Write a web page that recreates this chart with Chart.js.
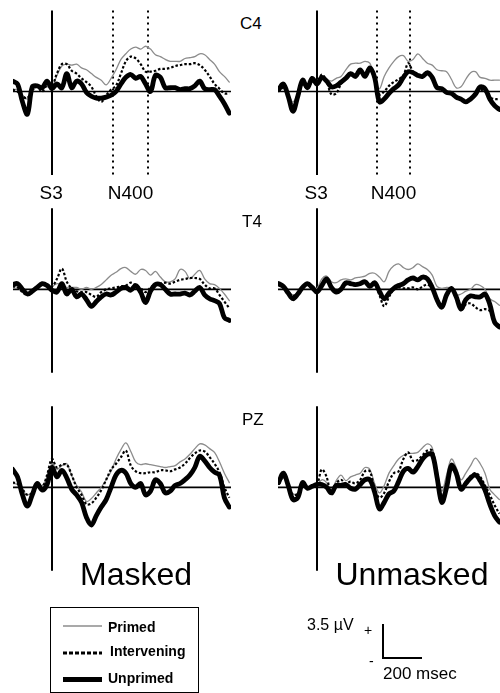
<!DOCTYPE html>
<html>
<head>
<meta charset="utf-8">
<script src="https://cdn.jsdelivr.net/npm/chart.js@4.4.0/dist/chart.umd.min.js"></script>
<style>
  body { margin: 0; background: #fff; }
  #page { position: relative; width: 500px; height: 693px; overflow: hidden;
          font-family: "Liberation Sans", Arial, sans-serif; color: #000; }
  #page canvas { position: absolute; }
  .lbl { position: absolute; line-height: 1; white-space: nowrap; }
</style>
</head>
<body>
<div id="page"></div>
<script>
// time points (ms after S3)
var timesLeft = [-200,-175,-150,-125,-100,-75,-50,-25,0,25,50,75,100,125,150,175,200,225,250,275,300,325,350,375,400,425,450,475,500,525,550,575,600,625,650,675,700,725,750,775,800,825,850,875,900];
var timesRight = [-200,-175,-150,-125,-100,-75,-50,-25,0,25,50,75,100,125,150,175,200,225,250,275,300,325,350,375,400,425,450,475,500,525,550,575,600,625,650,675,700,725,750,775,800,825,850,875,900,925,950];

// amplitudes in microvolts, positive up
var c4MaskedPrimed = [0.2,0.2,-0.4,-0.8,0,0.5,0.3,0.5,0.5,1.7,2.7,2.9,2.8,2.9,2.5,2.3,1.9,1.5,1.2,0.7,1.4,2.3,3.4,4.0,4.5,4.7,4.5,4.8,4.5,3.9,3.7,3.4,3.2,3.2,3.2,3.5,3.6,3.7,4.0,3.9,3.4,2.9,2.1,1.6,1.0];
var c4MaskedIntervening = [0.2,0,-0.5,-0.7,0.2,0.5,0,0.7,0.6,1.9,2.9,2.9,2.2,1.9,1.4,1.0,0.5,-0.5,-1.1,-0.4,0.2,0.6,1.9,3.2,3.7,3.5,2.9,2.1,2.1,2.2,2.4,2.4,2.5,2.7,2.8,2.9,2.9,3.0,2.8,2.3,1.6,0.8,0.3,-0.2,-0.2];
var c4MaskedUnprimed = [1.1,0.8,-1.1,-2.4,0.5,0.6,0.4,1.1,0.3,0.8,0.4,1.9,0.4,1.1,0.8,-0.1,-0.5,-0.7,-0.7,-0.6,-0.4,0,0.8,1.5,1.8,1.4,1.6,0.8,0,1.7,1.5,0.4,0.4,0.4,0.2,0.3,0.3,0.6,1.1,0.3,0.2,0.2,-0.5,-1.3,-2.3];

var c4UnmaskedPrimed = [0,0.3,-0.3,-1.1,-0.2,0.7,0.4,1.0,1.1,1.7,1.3,1.1,1.4,1.6,2.3,2.9,3.0,3.0,3.2,3.0,1.6,0.3,1.6,2.5,3.2,3.7,3.8,3.2,3.4,4.0,3.5,3.0,2.8,2.3,2.2,2.1,1.3,0.4,0.5,1.3,2.0,2.1,1.5,1.4,1.2,1.2,1.2];
var c4UnmaskedIntervening = [0,0.4,-0.3,-1.5,-0.4,0.8,0.3,1.1,0.8,1.8,1.1,-0.3,-0.2,0.8,1.4,1.8,1.5,2.1,1.6,2.3,1.3,-0.3,0,0.6,1.0,1.3,1.7,3.0,2.1,1.7,1.6,1.8,1.4,0.4,0.2,-0.2,-0.3,-0.6,-0.8,-1.0,-0.7,-0.3,0.2,0,-0.6,-0.8,-0.8];
var c4UnmaskedUnprimed = [0.2,0.8,-0.5,-2.1,-0.5,1.2,0.4,1.4,0.8,1.5,1.1,0.5,0.6,1.0,1.4,1.9,1.6,2.3,1.6,2.5,1.5,-1.1,-0.8,-0.2,0.3,0.7,1.5,2.1,2.0,1.7,1.6,2.0,1.5,0.4,0.3,-0.1,-0.2,-0.6,-0.8,-1.1,-0.8,-0.3,0.5,0.3,-0.8,-1.5,-1.9];

var t4MaskedPrimed = [0.3,0.2,-0.2,-0.4,-0.1,0.3,0.4,0.4,0.3,0.6,0.5,0.2,0.2,0.2,0,0.2,0,0.2,0.5,1.0,1.5,1.8,2.2,2.3,1.9,1.6,2.1,2.0,1.5,1.9,1.3,0.8,0.8,1.1,2.1,1.9,1.1,1.6,2.0,1.1,0.6,0.5,0.1,-0.5,-1.2];
var t4MaskedIntervening = [0.3,0.2,-0.3,-0.6,-0.3,0.3,0.5,0.5,0.3,1.1,2.2,0.8,0.1,-0.2,-0.3,-0.3,-0.6,-0.8,-0.3,0,0.1,0.2,0.3,0.4,0.7,0.4,0.1,-0.3,0.2,0.5,0.6,0.7,0.6,0.8,1.0,1.1,1.2,1.2,1.1,0.5,0.1,0.1,-0.6,-1.3,-2.0];
var t4MaskedUnprimed = [0.5,0.6,0,-0.5,-0.2,0.2,0.6,0.4,-0.1,-0.3,0.6,-0.5,0,-0.8,-0.5,-1.1,-1.8,-1.3,-0.8,-0.5,-0.6,-0.3,0.1,0.2,-0.1,0.4,-0.3,-1.4,-0.2,0.5,0.5,0,-0.5,-0.5,-0.5,-0.4,-0.6,-0.2,0.2,-0.6,-1.0,-1.2,-1.5,-3.0,-3.3];

var t4UnmaskedPrimed = [0.4,0.2,-0.2,-0.6,-0.3,0.2,0.4,0.2,0.1,1.1,1.4,0.8,0.7,1.0,1.1,1.0,1.2,1.3,1.4,1.7,1.7,1.3,0.8,1.9,2.5,2.7,2.3,2.1,2.3,2.7,2.4,2.1,1.5,0.3,0.1,0.2,0.1,-0.6,-0.5,-0.2,0,0.5,0.4,0,-1.0,-1.3,-1.7];
var t4UnmaskedIntervening = [0.4,0.2,-0.3,-0.7,-0.4,0.2,0.5,0.1,-0.2,0.5,1.0,0.3,-0.2,-0.1,0.5,0.5,0.4,0.6,0.7,0.3,0.5,-0.6,-1.8,-0.8,0,0.2,0.1,0.1,0.2,0,0.3,0.5,0.1,-1.0,-1.6,-0.5,0,-1.0,-2.2,-1.6,-1.5,-1.9,-2.2,-2.1,-2.3,-3.4,-3.8];
var t4UnmaskedUnprimed = [0.6,0.3,-0.4,-1.0,-0.5,0.2,0.6,0.2,-0.3,0.4,1.1,0.2,-0.3,0,0.7,0.6,0.5,0.6,0.8,0.3,0.7,-0.2,-1.0,-0.4,0.1,0.4,0.6,1.0,1.2,1.0,1.3,1.1,0.2,-1.1,-1.9,-0.6,0.1,-0.8,-2.1,-1.1,-0.7,-0.8,-0.8,-0.5,-1.6,-3.5,-4.0];

var pzMaskedPrimed = [0.4,0.3,-0.3,-0.8,-0.5,0.3,0.2,1.1,2.5,1.9,2.3,2.5,1.2,0.2,-0.5,-1.5,-1.2,-0.6,0,0.8,1.7,3.0,4.0,4.7,3.8,2.7,2.4,2.5,2.4,2.3,2.2,2.1,2.2,2.3,2.7,3.0,3.5,4.1,4.6,4.5,4.1,3.7,2.7,1.5,0.5];
var pzMaskedIntervening = [0.5,0.4,-0.2,-0.8,-0.6,0.4,0,1.3,3.0,2.1,2.4,2.4,1.3,0,-0.8,-1.8,-1.7,-1.1,-0.3,0.8,1.9,2.5,3.2,3.9,2.3,1.7,1.5,1.5,1.6,1.6,1.8,1.8,1.7,1.9,2.1,2.5,3.1,3.6,3.9,3.8,3.2,2.5,1.6,0,-1.1];
var pzMaskedUnprimed = [1.9,1.1,-0.8,-2.0,-0.8,0.4,-0.3,0.3,2.1,1.1,1.8,1.0,-0.2,-0.8,-1.6,-3.2,-4.0,-3.0,-2.1,-1.3,0,1.3,1.8,1.5,0.4,0,0.4,-0.8,-0.4,0.8,0.4,-0.6,-0.4,0.2,0.4,0.8,1.3,2.1,3.3,2.8,2.1,1.6,1.3,-1.1,-2.1];

var pzUnmaskedPrimed = [0.3,1.0,0.1,-0.7,-0.6,0.3,0,0.1,0.2,0.8,0.5,-0.4,0.7,1.3,0.7,1.1,1.3,1.5,2.1,1.9,0.4,-0.6,0.2,1.5,2.3,3.0,3.4,3.6,3.6,3.7,4.2,4.6,4.2,1.9,-0.4,1.3,3.0,2.1,0.8,1.5,2.3,3.1,2.5,1.5,-0.2,-0.8,-1.3];
var pzUnmaskedIntervening = [0.3,1.1,0.1,-0.8,-0.7,0.4,-0.1,0.1,0.3,1.9,1.1,-0.8,0.4,0.8,0.4,0.6,0.4,0.8,1.7,1.7,-0.2,-1.1,-0.6,0.6,1.5,1.7,3.0,3.7,2.8,2.9,3.4,3.9,3.9,1.3,-1.1,0.5,2.5,1.7,0,0.6,1.2,1.5,1.1,0.2,-0.8,-1.9,-2.8];
var pzUnmaskedUnprimed = [0.5,1.5,0.2,-1.3,-1.1,0.5,-0.1,0.1,0.3,0.3,0,-0.6,0.2,0.2,0.3,-0.1,-0.2,0.3,0.8,0.8,-0.5,-2.3,-1.6,-0.7,-0.4,0.6,1.7,2.0,1.6,2.2,3.0,3.5,3.5,1.1,-1.6,0,2.3,1.5,-0.2,0.4,1.0,1.3,0.7,-0.3,-1.8,-3.0,-3.7];

var electrodes = ["C4", "T4", "PZ"];
var conditions = ["Masked", "Unmasked"];
var seriesNames = ["Primed", "Intervening", "Unprimed"];
var n400Window = [310, 485];     // ms, dotted markers (C4 only)
var s3Marker = [8.6, -8.85];     // extent of the S3 line, µV

// layout
var cols = [
  { left: 13, width: 218, s3x: 52, pxPerMs: 0.197, times: timesLeft },
  { left: 278, width: 222, s3x: 317, pxPerMs: 0.192, times: timesRight }
];
var rows = [
  { top: 0, baseline: 91.5, labelTop: 14.8, n400: true },
  { top: 198, baseline: 289.3, labelTop: 212.8, n400: false },
  { top: 396, baseline: 487.3, labelTop: 410.8, n400: false }
];
var rowHeight = 195;
var pxPerUv = 9.43;

var panelData = [
  [[c4MaskedPrimed, c4MaskedIntervening, c4MaskedUnprimed], [c4UnmaskedPrimed, c4UnmaskedIntervening, c4UnmaskedUnprimed]],
  [[t4MaskedPrimed, t4MaskedIntervening, t4MaskedUnprimed], [t4UnmaskedPrimed, t4UnmaskedIntervening, t4UnmaskedUnprimed]],
  [[pzMaskedPrimed, pzMaskedIntervening, pzMaskedUnprimed], [pzUnmaskedPrimed, pzUnmaskedIntervening, pzUnmaskedUnprimed]]
];

var page = document.getElementById("page");

function addLabel(text, left, top, size, extra) {
  var d = document.createElement("div");
  d.className = "lbl";
  d.textContent = text;
  d.style.left = left + "px";
  d.style.top = top + "px";
  d.style.fontSize = size + "px";
  if (extra) for (var k in extra) d.style[k] = extra[k];
  page.appendChild(d);
  return d;
}

function addCentered(text, cx, top, size) {
  var d = addLabel(text, 0, top, size);
  d.style.left = (cx - d.offsetWidth / 2) + "px";
}

var guides = {
  id: "guides",
  beforeDatasetsDraw: function (chart, args, opts) {
    var ctx = chart.ctx, x = chart.scales.x, y = chart.scales.y, area = chart.chartArea;
    var y0 = y.getPixelForValue(0);
    ctx.save();
    ctx.strokeStyle = "#000";
    ctx.lineWidth = 1.7;
    ctx.beginPath();
    ctx.moveTo(area.left, y0);
    ctx.lineTo(area.right, y0);
    ctx.stroke();

    var sx = Math.round(x.getPixelForValue(0));
    ctx.lineWidth = 2;
    ctx.beginPath();
    ctx.moveTo(sx, y.getPixelForValue(s3Marker[0]));
    ctx.lineTo(sx, y.getPixelForValue(s3Marker[1]));
    ctx.stroke();

    if (opts.n400) {
      ctx.lineWidth = 2;
      ctx.setLineDash([2, 4]);
      n400Window.forEach(function (t) {
        var px = Math.round(x.getPixelForValue(t));
        ctx.beginPath();
        ctx.moveTo(px, y.getPixelForValue(s3Marker[0]));
        ctx.lineTo(px, y.getPixelForValue(s3Marker[1]));
        ctx.stroke();
      });
    }
    ctx.restore();
  }
};

function points(times, values) {
  return times.map(function (t, i) { return { x: t, y: values[i] }; });
}

rows.forEach(function (row, r) {
  cols.forEach(function (col, c) {
    var canvas = document.createElement("canvas");
    canvas.width = col.width;
    canvas.height = rowHeight;
    canvas.style.left = col.left + "px";
    canvas.style.top = row.top + "px";
    canvas.style.width = col.width + "px";
    canvas.style.height = rowHeight + "px";
    page.appendChild(canvas);

    var set = panelData[r][c];
    var chart = new Chart(canvas.getContext("2d"), {
      type: "line",
      data: {
        datasets: [
          { label: seriesNames[2], data: points(col.times, set[2]), borderColor: "#000", borderWidth: 4.8 },
          { label: seriesNames[1], data: points(col.times, set[1]), borderColor: "#000", borderWidth: 2.2, borderDash: [2.5, 2], borderCapStyle: "butt" },
          { label: seriesNames[0], data: points(col.times, set[0]), borderColor: "#8c8c8c", borderWidth: 1.3 }
        ]
      },
      options: {
        responsive: false,
        animation: false,
        devicePixelRatio: 1,
        layout: { padding: 0 },
        elements: {
          point: { radius: 0 },
          line: { tension: 0.35, borderCapStyle: "round", borderJoinStyle: "round" }
        },
        scales: {
          x: { type: "linear", display: false,
               min: (col.left - col.s3x) / col.pxPerMs,
               max: (col.left + col.width - col.s3x) / col.pxPerMs },
          y: { type: "linear", display: false,
               min: -(row.top + rowHeight - row.baseline) / pxPerUv,
               max: (row.baseline - row.top) / pxPerUv }
        },
        plugins: { legend: { display: false }, tooltip: { enabled: false }, guides: { n400: row.n400 } }
      },
      plugins: [guides]
    });

    if (row.n400) {
      var xs = chart.scales.x;
      addCentered("S3", col.left + xs.getPixelForValue(0) - 1, 182.5, 19);
      addCentered("N400", col.left + (xs.getPixelForValue(n400Window[0]) + xs.getPixelForValue(n400Window[1])) / 2, 182.5, 19);
    }
  });
  addLabel(electrodes[r], r === 0 ? 240 : 242, row.labelTop, 17);
});

addCentered(conditions[0], 136, 557.8, 32);
addCentered(conditions[1], 412, 557.8, 32);

// legend box
var legend = document.createElement("div");
legend.style.cssText = "position:absolute;left:50px;top:607px;width:147px;height:84px;border:1.5px solid #000;";
page.appendChild(legend);
var svgNS = "http://www.w3.org/2000/svg";
var lsvg = document.createElementNS(svgNS, "svg");
lsvg.setAttribute("width", "500");
lsvg.setAttribute("height", "693");
lsvg.style.cssText = "position:absolute;left:0;top:0;";
page.appendChild(lsvg);
function svgLine(x1, y1, x2, y2, color, w, dash) {
  var l = document.createElementNS(svgNS, "line");
  l.setAttribute("x1", x1); l.setAttribute("y1", y1);
  l.setAttribute("x2", x2); l.setAttribute("y2", y2);
  l.setAttribute("stroke", color); l.setAttribute("stroke-width", w);
  if (dash) l.setAttribute("stroke-dasharray", dash);
  lsvg.appendChild(l);
}
svgLine(63, 626, 102, 626, "#8c8c8c", 1.5);
svgLine(63, 653, 102, 653, "#000", 3, "4,2");
svgLine(63, 679.5, 102, 679.5, "#000", 5);
addLabel(seriesNames[0], 108, 620, 14, { fontWeight: "bold" });
addLabel(seriesNames[1], 110, 644.2, 14, { fontWeight: "bold" });
addLabel(seriesNames[2], 108, 671.2, 14, { fontWeight: "bold" });

// calibration bar
svgLine(383, 624, 383, 659, "#000", 2);
svgLine(382, 658, 422, 658, "#000", 2);
addLabel("3.5 µV", 307, 617.2, 16);
addLabel("+", 364, 623, 14);
addLabel("-", 369, 654, 14);
addLabel("200 msec", 383, 664.8, 17);
</script>
</body>
</html>
